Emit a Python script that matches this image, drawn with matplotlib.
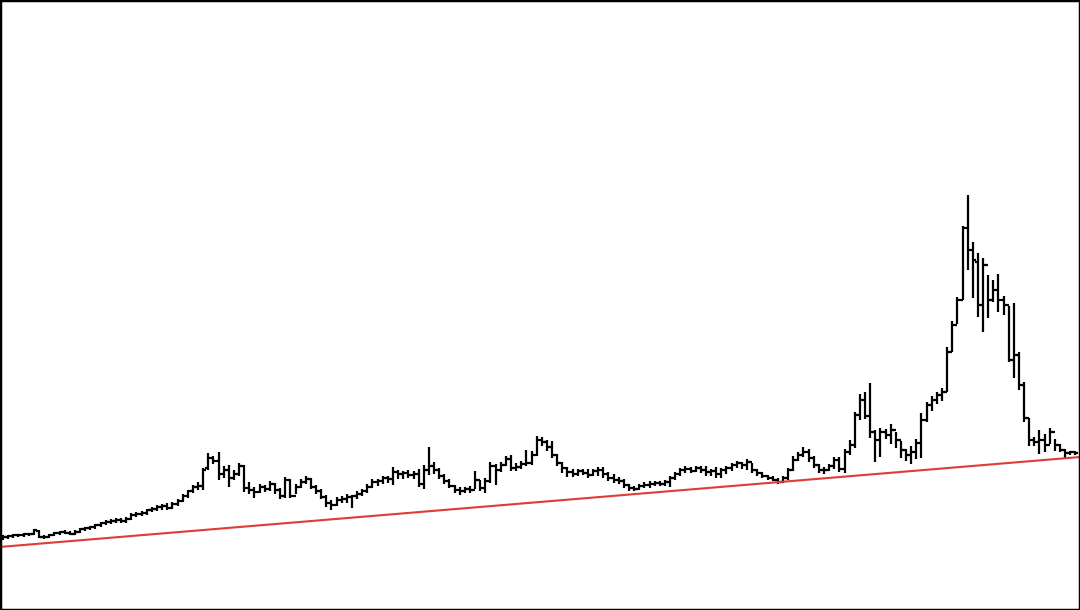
import matplotlib
matplotlib.use("Agg")
import matplotlib.pyplot as plt
import numpy as np

highs = [75,75,76,76,77,77,81,80,75,76,
         78,79,80,79,80,82,83,84,86,88,
         90,91,92,92,93,97,98,99,101,103,
         105,106,107,108,111,116,120,125,128,142,
         157,154,158,144,145,140,147,145,128,123,
         126,125,129,127,122,133,131,126,131,134,
         132,125,121,115,110,113,114,116,115,119,
         121,126,131,131,134,134,143,140,139,140,
         139,141,145,163,148,142,136,131,125,123,
         123,124,139,130,132,148,146,148,154,155,
         147,149,160,159,174,173,170,169,156,148,
         143,141,141,141,141,141,143,143,138,136,
         133,131,126,124,126,128,129,129,129,130,
         134,138,142,144,143,144,144,144,141,143,
         142,144,147,149,148,151,147,141,138,135,
         134,132,134,142,154,158,163,161,154,146,
         143,146,153,153,161,170,198,216,218,227,
         180,182,181,186,178,169,161,164,171,197,
         208,214,218,222,263,289,313,384,415,368,
         357,352,335,330,336,314,304,307,258,228,
         192,173,180,176,182,171,166,161,159,159]
lows = [70,71,72,73,73,74,75,72,71,72,
        74,75,76,75,75,77,79,80,81,83,
        85,86,87,87,87,90,93,94,95,98,
        99,100,100,101,104,108,112,117,120,120,
        140,146,130,132,123,130,134,118,116,112,
        117,118,119,116,111,112,112,116,122,126,
        121,116,111,103,100,104,107,107,102,111,
        114,117,122,124,126,127,125,131,131,132,
        131,123,121,135,136,131,126,122,117,115,
        117,117,121,119,117,127,125,138,144,139,
        139,141,144,145,154,164,159,152,144,137,
        133,133,134,135,132,134,134,132,129,127,
        126,122,119,119,120,122,122,124,124,124,
        123,130,134,137,137,138,137,134,134,132,
        132,136,139,142,141,140,137,134,132,130,
        129,126,127,130,139,149,153,148,142,137,
        136,139,141,138,137,155,162,190,191,172,
        148,153,171,166,162,152,149,146,151,152,
        188,199,206,209,218,258,286,310,340,312,
        293,278,292,308,298,295,248,232,220,188,
        164,164,156,158,166,159,158,152,155,155]
opens = [71,73,74,75,75,76,76,79,73,73,
         75,77,78,77,76,78,81,82,83,85,
         87,88,89,90,89,91,95,96,97,100,
         101,103,104,102,106,109,114,119,123,124,
         142,152,149,136,140,132,136,144,122,120,
         118,123,121,126,120,114,130,114,123,128,
         131,123,119,113,107,105,110,111,113,114,
         116,119,123,128,129,132,131,138,136,137,
         135,136,126,140,144,140,134,129,124,120,
         119,121,120,130,122,129,144,140,145,151,
         142,143,146,147,155,170,168,163,155,147,
         142,138,136,139,137,135,139,140,136,132,
         130,129,125,122,121,124,125,126,127,126,
         128,132,136,140,141,139,142,140,138,139,
         136,140,142,145,147,145,148,140,137,134,
         132,130,128,132,140,150,155,158,152,145,
         140,140,144,150,141,158,165,195,210,194,
         178,170,178,175,180,170,160,155,158,167,
         190,205,210,215,218,258,285,310,382,360,
         348,305,345,310,320,310,305,250,255,225,
         192,170,168,170,165,178,165,160,157,158]
closes = [73,74,75,75,76,76,80,73,73,75,
          77,78,77,76,78,81,82,83,85,87,
          88,89,90,89,91,95,96,97,100,101,
          103,104,102,106,109,114,119,123,124,140,
          152,149,136,140,132,136,144,122,120,118,
          123,121,126,120,114,130,114,123,128,131,
          123,119,113,107,105,110,111,113,114,116,
          119,123,128,129,132,131,138,136,137,135,
          136,126,140,144,140,134,129,124,120,119,
          121,120,130,122,129,144,140,145,151,142,
          143,146,147,155,170,168,163,155,147,142,
          138,136,139,137,135,139,140,136,132,130,
          129,125,122,121,124,125,126,127,126,128,
          132,136,140,141,139,142,140,138,139,136,
          140,142,145,147,145,148,140,137,134,132,
          130,128,132,140,150,155,158,152,145,140,
          140,144,150,141,158,165,195,210,194,178,
          170,178,175,180,170,160,155,158,167,190,
          205,210,215,218,258,285,310,382,360,350,
          305,345,310,320,310,305,250,255,225,192,
          170,168,170,165,178,165,160,157,158,157]

trend_start = 63.3   # trend line value at first bar
trend_end = 152.6    # trend line value at last bar

fig = plt.figure(figsize=(10.8, 6.1), dpi=100)
ax = fig.add_axes([0, 0, 1, 1])

x = np.arange(len(closes))
tick = 0.55
ax.vlines(x, lows, highs, color="black", linewidth=1.6)
ax.hlines(opens, x - tick, x, color="black", linewidth=1.6)
ax.hlines(closes, x, x + tick, color="black", linewidth=1.6)

ax.axline((0, trend_start), (len(closes) - 1, trend_end), color="#e03a3a", linewidth=1.5)

ax.set_xlim(-0.6, len(closes) - 0.1)
ax.set_ylim(0, 610)
ax.set_xticks([])
ax.set_yticks([])
for s in ax.spines.values():
    s.set_linewidth(2.5)
    s.set_color("black")

fig.savefig("out.png", dpi=100)
